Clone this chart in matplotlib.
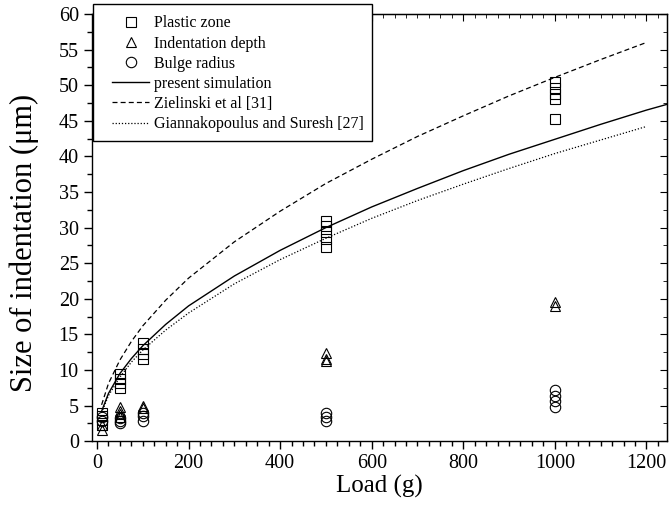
import matplotlib
matplotlib.use("Agg")
import matplotlib.pyplot as plt
from matplotlib.patches import Rectangle
from matplotlib.ticker import MultipleLocator, NullFormatter

plt.rcParams['font.family'] = ['Liberation Serif', 'DejaVu Serif']
plt.rcParams['mathtext.fontset'] = 'stix'

# ------------------------------------------------------------------ #
# measured data (read from figure)
pz_load = [10]*4 + [50]*4 + [100]*4 + [500]*5 + [1000]*5
pz_size = [2.2, 3.0, 3.6, 4.0,
           7.5, 8.2, 8.8, 9.4,
           11.5, 12.2, 13.0, 13.8,
           27.3, 28.4, 29.4, 30.2, 30.9,
           45.2, 48.0, 48.8, 49.6, 50.4]

depth_load = [10]*2 + [50]*4 + [100]*2 + [500]*3 + [1000]*2
depth_size = [1.5, 2.2,
              3.4, 3.8, 4.3, 4.8,
              4.6, 5.0,
              11.2, 11.5, 12.4,
              19.0, 19.5]

bulge_load = [10]*2 + [50]*3 + [100]*3 + [500]*3 + [1000]*4
bulge_size = [2.8, 3.4,
              2.5, 2.9, 3.3,
              2.9, 3.5, 3.9,
              2.8, 3.4, 3.9,
              4.8, 5.6, 6.4, 7.2]

# model curves
curve_load = [10, 25, 50, 75, 100, 150, 200, 300, 400, 500,
              600, 700, 800, 900, 1000, 1100, 1200]
sim_load = curve_load + [1250]
sim_size = [4.2, 6.7, 9.5, 11.6, 13.4, 16.4, 19.0, 23.2, 26.8, 30.0,
            32.9, 35.5, 38.0, 40.3, 42.4, 44.5, 46.5, 47.4]
ziel_size = [5.1, 8.1, 11.4, 14.0, 16.2, 19.8, 22.9, 28.0, 32.3, 36.2,
             39.6, 42.8, 45.7, 48.5, 51.1, 53.6, 56.0]
gian_size = [4.0, 6.4, 9.0, 11.1, 12.8, 15.6, 18.0, 22.1, 25.5, 28.5,
             31.3, 33.8, 36.1, 38.3, 40.4, 42.3, 44.2]

# ------------------------------------------------------------------ #
W, H = 669, 519
fig = plt.figure(figsize=(W/100, H/100), dpi=100)
ax = fig.add_axes([0.1375, 0.150, 0.8595, 0.823])

mk = dict(linestyle='none', markerfacecolor='none', markeredgecolor='black',
          markersize=7.5, markeredgewidth=0.8)
ax.plot(pz_load, pz_size, marker='s', label='Plastic zone', **mk)
ax.plot(depth_load, depth_size, marker='^', label='Indentation depth', **mk)
ax.plot(bulge_load, bulge_size, marker='o', label='Bulge radius', **mk)

ax.plot(sim_load, sim_size, color='black', linestyle='-', linewidth=1.0,
        label='present simulation')
ax.plot(curve_load, ziel_size, color='black', linestyle=(0, (4, 2.5)),
        linewidth=0.9, label='Zielinski et al [31]')
ax.plot(curve_load, gian_size, color='black', linestyle=(0, (1, 1.5)),
        linewidth=0.9, label='Giannakopoulus and Suresh [27]')

ax.set_xlim(-11, 1245)
ax.set_ylim(0, 60)
ax.xaxis.set_major_locator(MultipleLocator(200))
ax.xaxis.set_minor_locator(MultipleLocator(25))
ax.yaxis.set_major_locator(MultipleLocator(5))
ax.yaxis.set_minor_locator(MultipleLocator(2.5))
ax.tick_params(which='both', direction='out', labelsize=14.5, width=1.0)
ax.tick_params(which='major', length=6)
ax.tick_params(which='minor', length=3.5)

# inward ticks on top and right
top = ax.secondary_xaxis('top')
top.xaxis.set_major_locator(MultipleLocator(200))
top.xaxis.set_minor_locator(MultipleLocator(25))
top.xaxis.set_major_formatter(NullFormatter())
top.tick_params(which='both', direction='in')
top.tick_params(which='major', length=5)
top.tick_params(which='minor', length=3)
right = ax.secondary_yaxis('right')
right.yaxis.set_major_locator(MultipleLocator(5))
right.yaxis.set_minor_locator(MultipleLocator(2.5))
right.yaxis.set_major_formatter(NullFormatter())
right.tick_params(which='both', direction='in')
right.tick_params(which='major', length=5)
right.tick_params(which='minor', length=3)

for s in ax.spines.values():
    s.set_linewidth(1.0)

ax.set_xlabel('Load (g)', fontsize=18, labelpad=1)
ax.set_ylabel('Size of indentation (\u03bcm)', fontsize=22)
ax.yaxis.set_label_coords(-0.092, 0.464)

# legend box: drawn separately so it can sit over the top spine
box = Rectangle((93/W, 1 - 141/H), 279/W, 137/H, transform=fig.transFigure,
                facecolor='white', edgecolor='black', linewidth=1.0,
                clip_on=False, zorder=4)
ax.add_patch(box)
leg = ax.legend(loc='upper left', bbox_to_anchor=(106/W, 0.25, 0.33, 1 - 9/H - 0.25),
                bbox_transform=fig.transFigure, borderaxespad=0,
                fontsize=11.5, labelspacing=0.26, handlelength=2.3,
                handletextpad=0.3, borderpad=0.4, frameon=False)
leg.set_zorder(5)

fig.savefig('out.png', dpi=100)
plt.close()
